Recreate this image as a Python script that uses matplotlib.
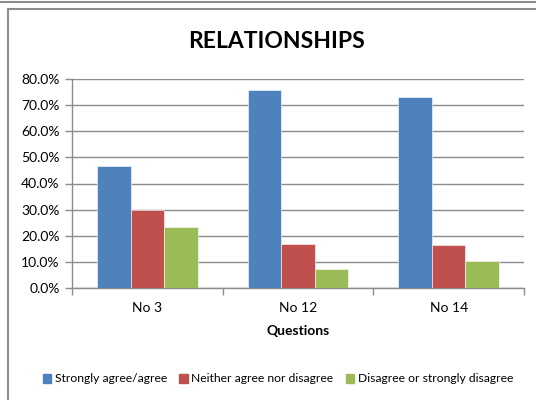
import numpy as np
import matplotlib
matplotlib.use("Agg")
import matplotlib.pyplot as plt
from matplotlib.ticker import FixedLocator, PercentFormatter
from matplotlib.lines import Line2D
from matplotlib.patches import Patch

questions = ["No 3", "No 12", "No 14"]
series_names = ["Strongly agree/agree", "Neither agree nor disagree",
                "Disagree or strongly disagree"]
agree = [46.7, 75.9, 73.2]
neither = [30.0, 16.9, 16.5]
disagree = [23.3, 7.2, 10.2]
colors = ["#4F81BD", "#C0504D", "#9BBB59"]
y_ticks = [0, 10, 20, 30, 40, 50, 60, 70, 80]

plt.rcParams["font.family"] = ["Lato", "DejaVu Sans"]

W, H = 536, 400
fig = plt.figure(figsize=(W / 100, H / 100), dpi=100)

# outer frame lines
fig.add_artist(Line2D([0, 1], [1 - 1.5 / H, 1 - 1.5 / H], color="#8c8c8c", lw=1.5))
fig.add_artist(Line2D([7.5 / W, 7.5 / W], [0, 1 - 8.5 / H], color="#8c8c8c", lw=1.5))
fig.add_artist(Line2D([7.5 / W, 1], [1 - 8.5 / H, 1 - 8.5 / H], color="#8c8c8c", lw=1.5))

left, right, top, bottom = 72, 524, 79.3, 287.7
ax = fig.add_axes([left / W, 1 - bottom / H, (right - left) / W, (bottom - top) / H])

x = np.arange(len(questions))
bw = 1 / 4.5
for i, (vals, name) in enumerate(zip([agree, neither, disagree], series_names)):
    ax.bar(x + (i - 1) * bw, vals, width=bw, color=colors[i], label=name,
           edgecolor="white", linewidth=0.4, zorder=3)

ax.set_xlim(-0.5, 2.5)
ax.set_ylim(0, 80)
ax.set_yticks(y_ticks)
ax.yaxis.set_major_formatter(PercentFormatter(decimals=1))
ax.yaxis.grid(True, color="#8c8c8c", lw=1.0, zorder=0)
ax.set_xticks(x)
ax.set_xticklabels(questions)
ax.xaxis.set_minor_locator(FixedLocator([-0.5, 0.5, 1.5, 2.5]))
ax.tick_params(axis="x", which="major", length=0, pad=10, labelsize=10)
ax.tick_params(axis="x", which="minor", length=5, color="#8c8c8c", width=1)
ax.tick_params(axis="y", length=5, color="#8c8c8c", width=1, labelsize=10, pad=4)
for s in ["top", "right"]:
    ax.spines[s].set_visible(False)
for s in ["left", "bottom"]:
    ax.spines[s].set_color("#8c8c8c")
    ax.spines[s].set_linewidth(1)

fig.text(276 / W, 1 - 42 / H, "RELATIONSHIPS", ha="center", va="center",
         fontsize=16.5, fontweight="bold")
fig.text(298 / W, 1 - 331 / H, "Questions", ha="center", va="center",
         fontsize=10, fontweight="bold")

handles = [Patch(color=c) for c in colors]
fig.legend(handles, series_names, loc="center", bbox_to_anchor=(278 / W, 1 - 379 / H),
           ncol=3, frameon=False, fontsize=8.7, handlelength=0.7, handleheight=0.7,
           handletextpad=0.3, columnspacing=1.0)

fig.savefig("out.png", dpi=100)
